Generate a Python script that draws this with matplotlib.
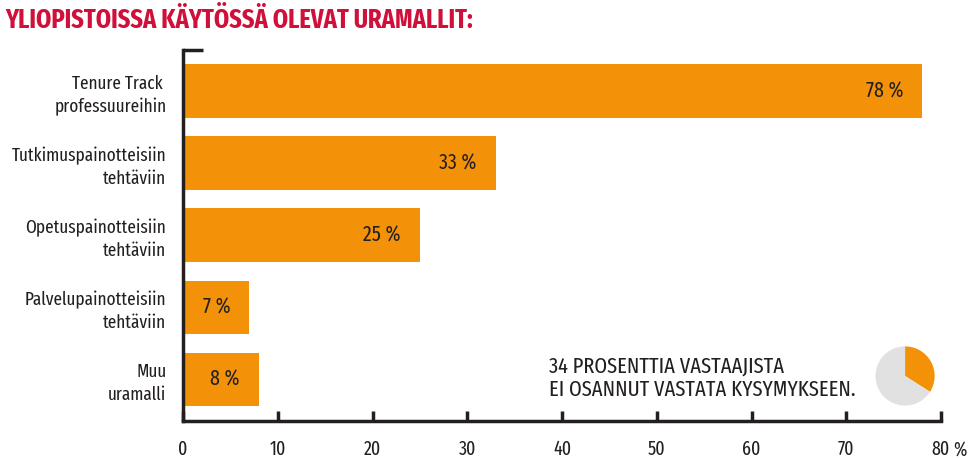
import matplotlib
matplotlib.use("Agg")
import matplotlib.pyplot as plt

# Uramallit yliopistoissa
categories = ["Tenure Track \nprofessuureihin", "Tutkimuspainotteisiin\ntehtäviin",
              "Opetuspainotteisiin\ntehtäviin", "Palvelupainotteisiin\ntehtäviin",
              "Muu\nuramalli"]
values = [78, 33, 25, 7, 8]
xticks = [0, 10, 20, 30, 40, 50, 60, 70, 80]
pie_values = [34, 66]  # ei osannut vastata / muut

title = "YLIOPISTOISSA KÄYTÖSSÄ OLEVAT URAMALLIT:"
note = "34 PROSENTTIA VASTAAJISTA\nEI OSANNUT VASTATA KYSYMYKSEEN."

orange = "#f39208"
grey = "#e2e1e2"
dark = "#231f20"
red = "#d0103a"

plt.rcParams['font.family'] = ['Fira Sans Extra Condensed', 'Roboto Condensed', 'DejaVu Sans']

fig = plt.figure(figsize=(9.71, 4.58), dpi=100)
ax = fig.add_axes([0.1885, 0.0808, 0.7806, 0.810])

ypos = list(range(len(values)))
ax.barh(ypos, values, height=0.74, color=orange)
for y, v in zip(ypos, values):
    ax.text(v - 2, y, "%d %%" % v, ha="right", va="center", fontsize=15.5, color=dark)

ax.set_xlim(0, 80)
ax.set_ylim(4.58, -0.57)
ax.set_yticks(ypos)
ax.set_yticklabels(categories, fontsize=13.5, color=dark, linespacing=1.35)
ax.set_xticks(xticks)
ax.set_xticklabels([str(t) for t in xticks], fontsize=14, color=dark)
ax.tick_params(axis="y", length=0, pad=12)
ax.tick_params(axis="x", direction="in", length=7, width=2.5, color=dark, pad=13)

for s in ["top", "right"]:
    ax.spines[s].set_visible(False)
for s in ["left", "bottom"]:
    ax.spines[s].set_linewidth(2.5)
    ax.spines[s].set_color(dark)
# small cap at top of the y axis
ax.plot([0, 2.1], [-0.57, -0.57], color=dark, lw=2.5, clip_on=False, solid_capstyle="butt")

fig.text(0.9955, 0.0175, "%", ha="right", va="center", fontsize=14, color=dark)

fig.text(0.005, 0.955, title, ha="left", va="center", fontsize=19, fontweight="bold", color=red)
fig.text(0.565, 0.175, note, ha="left", va="center", fontsize=16, color=dark, linespacing=1.15)

pax = fig.add_axes([0.894, 0.0983, 0.0762, 0.1616])
pax.pie(pie_values, colors=[orange, grey], startangle=90, counterclock=False)
pax.set_aspect("equal")

fig.savefig("out.png", dpi=100)
